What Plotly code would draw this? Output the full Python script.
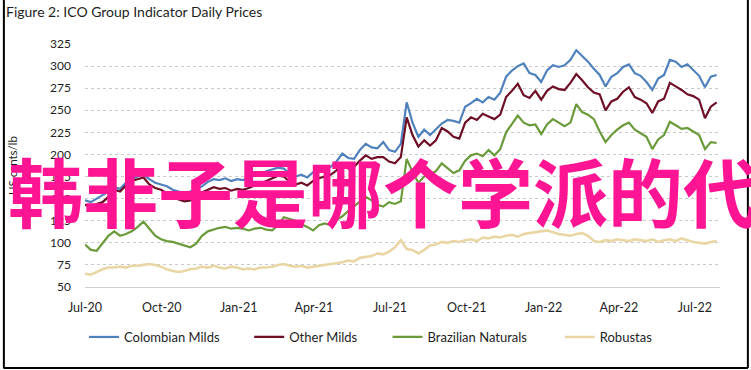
import pandas as pd
import plotly.graph_objects as go

# ---- data (weekly readings, US cents/lb) ----
start_date = "2020-07-01"
n_weeks = 109
dates = pd.date_range(start_date, periods=n_weeks, freq="7D")

colombian_milds = [
    148, 146, 150, 154, 158, 163, 161, 168, 172, 175,
    177, 172, 168, 166, 164, 160, 158, 156, 158, 161,
    164, 169, 172, 171, 173, 170, 172, 171, 174, 176,
    178, 181, 183, 185, 184, 178, 175, 177, 174, 180,
    182, 184, 186, 192, 201, 196, 195, 205, 212, 208,
    207, 214, 205, 203, 212, 259, 236, 220, 228, 222,
    228, 235, 239, 238, 236, 254, 258, 263, 259, 265,
    262, 270, 288, 295, 300, 303, 292, 290, 282, 295,
    301, 299, 301, 307, 318, 312, 305, 297, 290, 277,
    288, 292, 299, 302, 292, 289, 282, 273, 286, 290,
    307, 305, 299, 302, 296, 289, 276, 288, 290,
]

other_milds = [
    143, 141, 144, 146, 152, 160, 158, 165, 170, 172,
    174, 166, 162, 160, 156, 152, 149, 147, 148, 152,
    157, 160, 163, 161, 162, 159, 161, 160, 162, 165,
    167, 170, 173, 176, 175, 169, 166, 168, 165, 170,
    173, 175, 177, 182, 188, 184, 186, 193, 199, 195,
    197, 197, 192, 190, 197, 242, 222, 209, 216, 210,
    216, 230, 226, 220, 218, 236, 242, 239, 246, 243,
    240, 245, 265, 272, 280, 267, 264, 272, 262, 272,
    277, 274, 273, 281, 291, 284, 276, 270, 268, 250,
    260, 263, 271, 276, 265, 262, 258, 247, 260, 263,
    281, 277, 273, 268, 266, 262, 241, 254, 259,
]

brazilian_naturals = [
    98, 92, 91, 99, 108, 113, 108, 110, 113, 118,
    124, 116, 108, 104, 102, 101, 99, 97, 95, 99,
    108, 113, 115, 117, 118, 116, 117, 116, 114, 116,
    117, 115, 114, 120, 129, 127, 125, 121, 118, 114,
    120, 122, 120, 126, 130, 136, 141, 147, 152, 148,
    143, 141, 146, 144, 147, 195, 180, 168, 175, 178,
    181, 190, 184, 179, 182, 193, 199, 201, 198, 205,
    199, 206, 225, 234, 244, 236, 233, 234, 223, 234,
    240, 236, 232, 236, 257, 248, 245, 240, 226, 214,
    222, 228, 233, 236, 228, 224, 220, 206, 217, 222,
    237, 233, 229, 230, 226, 222, 206, 214, 213,
]

robustas = [
    65, 64, 67, 70, 72, 72, 73, 72, 74, 74,
    75, 76, 75, 73, 70, 68, 67, 68, 70, 71,
    73, 72, 74, 72, 71, 73, 72, 70, 71, 70,
    72, 72, 73, 75, 76, 74, 73, 74, 72, 73,
    74, 75, 76, 77, 78, 80, 79, 83, 84, 85,
    88, 87, 90, 95, 103, 93, 92, 88, 92, 97,
    98, 101, 100, 102, 101, 103, 104, 102, 106, 105,
    107, 106, 108, 109, 107, 110, 111, 112, 113, 114,
    112, 110, 109, 108, 110, 111, 108, 102, 101, 103,
    102, 104, 103, 102, 104, 103, 102, 104, 101, 103,
    104, 102, 105, 103, 101, 100, 99, 101, 102,
]

series_names = ["Colombian Milds", "Other Milds", "Brazilian Naturals", "Robustas"]
series_values = [colombian_milds, other_milds, brazilian_naturals, robustas]
series_colors = ["#4F81BD", "#6E0F26", "#6A9A3A", "#EAD6A4"]
series_widths = [2.2, 2.2, 2.2, 2.6]

y_ticks = [50, 75, 100, 125, 150, 175, 200, 225, 250, 275, 300, 325]

title_text = "Figure 2: ICO Group Indicator Daily Prices"
y_title = "US cents/lb"
watermark = "韩非子是哪个学派的代"

# ---- figure ----
W, H = 751, 370
L, R, T, B = 82, 31, 44, 83
pw, ph = W - L - R, H - T - B


def px_x(p):
    return (p - L) / pw


def px_y(p):
    return (H - B - p) / ph


FONT = "Lato, 'Open Sans', sans-serif"
TXT = "#1e1e1e"

legend_ids = ["legend", "legend2", "legend3", "legend4"]
legend_left_px = [81, 247, 386, 559]

fig = go.Figure()
for name, vals, col, lw, lid in zip(series_names, series_values, series_colors,
                                    series_widths, legend_ids):
    fig.add_trace(go.Scatter(
        x=dates, y=vals, name=name, mode="lines",
        line=dict(color=col, width=lw), legend=lid,
    ))

legend_common = dict(
    orientation="h", y=px_y(337), xanchor="left", yanchor="middle",
    font=dict(family=FONT, size=13, color=TXT), bgcolor="rgba(0,0,0,0)",
)
legend_layout = {lid: dict(x=px_x(lx), **legend_common) for lid, lx in zip(legend_ids, legend_left_px)}

fig.update_layout(
    width=W, height=H,
    margin=dict(l=L, r=R, t=T, b=B),
    paper_bgcolor="white", plot_bgcolor="white",
    font=dict(family=FONT, size=12, color=TXT),
    showlegend=True,
    title=dict(
        text=title_text, xref="container", yref="container",
        x=6 / W, y=1 - 12 / H, xanchor="left", yanchor="middle",
        font=dict(family=FONT, size=14, color=TXT),
    ),
    **legend_layout,
)

fig.update_xaxes(
    type="date",
    range=["2020-07-01", "2022-07-31"],
    tick0="2020-07-01", dtick="M3", tickformat="%b-%y",
    showgrid=False, showline=True, linecolor="#cfcfcf", linewidth=1,
    ticks="", ticklabelstandoff=9,
    tickfont=dict(size=12.5, color=TXT),
)
fig.update_yaxes(
    range=[50, 325], tickvals=y_ticks,
    showgrid=True, gridcolor="#c9c9c9", gridwidth=1, griddash="dot",
    zeroline=False, showline=False, ticks="",
    ticklabelstandoff=13,
    tickfont=dict(size=12, color=TXT),
    title=dict(text=y_title, font=dict(size=11.5, color=TXT), standoff=30),
)

# frame
frame = dict(type="line", xref="paper", yref="paper", line=dict(color="black", width=2))
fig.add_shape(**frame, x0=px_x(0.5), x1=px_x(0.5), y0=px_y(0), y1=px_y(368))
fig.add_shape(**frame, x0=px_x(748), x1=px_x(748), y0=px_y(0), y1=px_y(368))
fig.add_shape(**frame, x0=px_x(0), x1=px_x(748), y0=px_y(368), y1=px_y(368))

# watermark overlay
fig.add_annotation(
    text=watermark, xref="paper", yref="paper",
    x=px_x(3), y=px_y(189), xanchor="left", yanchor="middle",
    showarrow=False,
    font=dict(family="Noto Sans CJK SC", size=75, color="#FF1493", weight="bold"),
)

fig.write_html(
    "out.html",
    config={"displayModeBar": False},
    post_script="document.body.style.margin='0';document.body.style.overflow='hidden';",
)
